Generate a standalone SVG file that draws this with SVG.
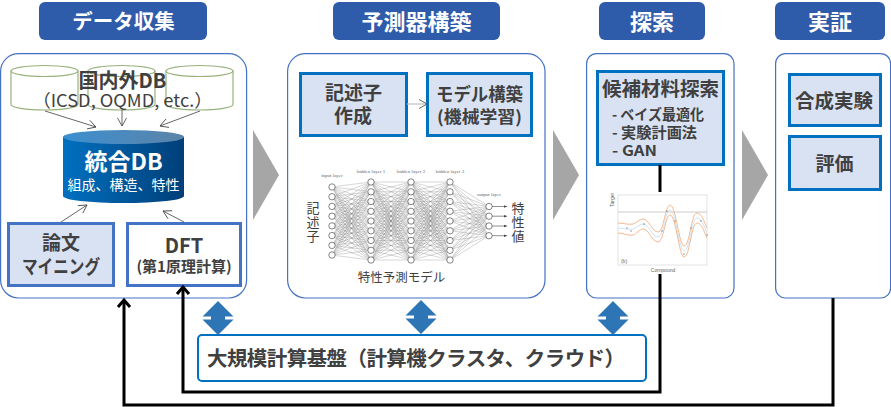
<svg xmlns="http://www.w3.org/2000/svg" xmlns:xlink="http://www.w3.org/1999/xlink" width="891" height="407" viewBox="0 0 891 407">
<style>
text{font-family:"Noto Sans CJK JP","Noto Sans",sans-serif;text-anchor:middle;fill:#404040}
.b{font-weight:700}
.hd{fill:#2f5bab}
.hdt{fill:#fff;font-weight:700}
.panel{fill:#fff;stroke:#4472c4;stroke-width:1.2}
.box{fill:#d9e2f3;stroke:#0070c0;stroke-width:3}
.box2{fill:#d9e2f3;stroke:#4472c4;stroke-width:3}
.cyl{fill:#fff;stroke:#98b27c;stroke-width:1.2}
.thin{fill:none;stroke:#404040;stroke-width:.8;marker-end:url(#oa)}
.lite{fill:none;stroke:#bfbfbf;stroke-width:1.2;marker-end:url(#oa)}
.blk{fill:none;stroke:#000;stroke-width:3}
.blka{marker-end:url(#ba)}
.ga{fill:#a6a6a6}
.da{fill:#2e75b6}
.nn{fill:none;stroke:#777;stroke-width:.3;vector-effect:non-scaling-stroke}
.nd{fill:#fff;stroke:#333;stroke-width:.6}
.sm{font-family:"Liberation Serif",serif;font-size:5px;fill:#666}
.cht{font-family:"Liberation Sans",sans-serif;font-size:5px;fill:#666}
.l{text-anchor:start;font-weight:700;font-size:14.500px}
.pt{fill:#777}
</style>
<defs>
<marker id="oa" markerUnits="userSpaceOnUse" markerWidth="12" markerHeight="12" refX="10" refY="6" orient="auto"><path d="M2 1.500L10 6L2 10.500" fill="none" stroke="#404040" stroke-width=".8"/></marker>
<marker id="ba" markerUnits="userSpaceOnUse" markerWidth="16" markerHeight="16" refX="12" refY="8" orient="auto"><path d="M5 2L12 8L5 14" fill="none" stroke="#000" stroke-width="3"/></marker>
<marker id="sa" markerUnits="userSpaceOnUse" markerWidth="4" markerHeight="4" refX="3" refY="2" orient="auto"><path d="M0 .7L3 2L0 3.300Z" fill="#444"/></marker>
<linearGradient id="dbb" x1="0" x2="1" y1="0" y2="0"><stop offset="0" stop-color="#0070c0"/><stop offset="1" stop-color="#003f78"/></linearGradient>
<linearGradient id="dbt" x1="0" x2="1" y1="0" y2="0"><stop offset="0" stop-color="#3b8fd0"/><stop offset="1" stop-color="#5c84a8"/></linearGradient>
<path id="mesh" class="nn" d="M0 0L1 0M0 0L1 1M0 0L1 2M0 0L1 3M0 0L1 4M0 0L1 5M0 0L1 6M0 0L1 7M0 0L1 8M0 1L1 0M0 1L1 1M0 1L1 2M0 1L1 3M0 1L1 4M0 1L1 5M0 1L1 6M0 1L1 7M0 1L1 8M0 2L1 0M0 2L1 1M0 2L1 2M0 2L1 3M0 2L1 4M0 2L1 5M0 2L1 6M0 2L1 7M0 2L1 8M0 3L1 0M0 3L1 1M0 3L1 2M0 3L1 3M0 3L1 4M0 3L1 5M0 3L1 6M0 3L1 7M0 3L1 8M0 4L1 0M0 4L1 1M0 4L1 2M0 4L1 3M0 4L1 4M0 4L1 5M0 4L1 6M0 4L1 7M0 4L1 8M0 5L1 0M0 5L1 1M0 5L1 2M0 5L1 3M0 5L1 4M0 5L1 5M0 5L1 6M0 5L1 7M0 5L1 8M0 6L1 0M0 6L1 1M0 6L1 2M0 6L1 3M0 6L1 4M0 6L1 5M0 6L1 6M0 6L1 7M0 6L1 8M0 7L1 0M0 7L1 1M0 7L1 2M0 7L1 3M0 7L1 4M0 7L1 5M0 7L1 6M0 7L1 7M0 7L1 8M0 8L1 0M0 8L1 1M0 8L1 2M0 8L1 3M0 8L1 4M0 8L1 5M0 8L1 6M0 8L1 7M0 8L1 8"/>
<path id="dbl" class="da" d="M0 0L15.500 15.500H7V18.500H15.500L0 34L-15.500 18.500H-7V15.500H-15.500Z"/>
<g id="col9"><circle class="nd" cx="0" cy="182" r="3.200"/><circle class="nd" cx="0" cy="191.800" r="3.200"/><circle class="nd" cx="0" cy="201.500" r="3.200"/><circle class="nd" cx="0" cy="211.300" r="3.200"/><circle class="nd" cx="0" cy="221" r="3.200"/><circle class="nd" cx="0" cy="230.800" r="3.200"/><circle class="nd" cx="0" cy="240.500" r="3.200"/><circle class="nd" cx="0" cy="250.300" r="3.200"/><circle class="nd" cx="0" cy="260" r="3.200"/></g>
</defs>

<g id="header-data"><rect class="hd" x="39" y="2" width="168" height="38" rx="6"/><text class="hdt" style="fill:#fff" x="123.500" y="29" font-size="20.500">データ収集</text></g>
<g id="header-model"><rect class="hd" x="333" y="2" width="167" height="38" rx="6"/><text class="hdt" style="fill:#fff" x="416.500" y="30" font-size="22">予測器構築</text></g>
<g id="header-search"><rect class="hd" x="599" y="2" width="106" height="38" rx="6"/><text class="hdt" style="fill:#fff" x="652" y="30" font-size="22">探索</text></g>
<g id="header-verify"><rect class="hd" x="775" y="2" width="110" height="38" rx="6"/><text class="hdt" style="fill:#fff" x="830" y="30" font-size="22">実証</text></g>

<g id="panel-data"><rect class="panel" x="0.600" y="53.600" width="246" height="244.400" rx="18"/></g>
<g id="panel-model"><rect class="panel" x="287.600" y="53.600" width="257.400" height="244.400" rx="18"/></g>
<g id="panel-search"><rect class="panel" x="586.600" y="53.600" width="147.400" height="244.400" rx="10"/></g>
<g id="panel-verify"><rect class="panel" x="775.600" y="53.600" width="115" height="244.400" rx="10"/></g>

<g id="flow-arrows"><path class="ga" d="M253 130L279 175L253 220Z"/><path class="ga" d="M553 130L579 175L553 220Z"/><path class="ga" d="M742 130L768 175L742 220Z"/></g>

<g id="db-external">
<path class="cyl" d="M11 71V104.500A33.500 5.500 0 0 0 78 104.500V71Z"/><ellipse class="cyl" cx="44.500" cy="71" rx="33.500" ry="5.500"/>
<path class="cyl" d="M88 71V104.500A33.500 5.500 0 0 0 155 104.500V71Z"/><ellipse class="cyl" cx="121.500" cy="71" rx="33.500" ry="5.500"/>
<path class="cyl" d="M166 71V104.500A33.500 5.500 0 0 0 233 104.500V71Z"/><ellipse class="cyl" cx="199.500" cy="71" rx="33.500" ry="5.500"/>
<text class="b" x="122.500" y="88" font-size="20">国内外DB</text>
<text x="122.500" y="107" font-size="17.500" textLength="180" lengthAdjust="spacingAndGlyphs">（ICSD, OQMD, etc.）</text>
</g>
<g id="db-integrated">
<path d="M63 137V196A60.500 7 0 0 0 184 196V137Z" fill="url(#dbb)"/><ellipse cx="123.500" cy="137" rx="60.500" ry="7" fill="url(#dbt)"/>
<text class="b" x="123.500" y="170" font-size="23" style="fill:#fff">統合DB</text>
<text x="123.500" y="190" font-size="14" style="fill:#fff">組成、構造、特性</text>
</g>
<g id="node-mining"><rect class="box2" x="8.500" y="223.500" width="105" height="62"/><text class="b" x="61" y="250" font-size="19">論文</text><text class="b" x="61" y="274" font-size="19" textLength="78" lengthAdjust="spacingAndGlyphs">マイニング</text></g>
<g id="node-dft"><rect class="box2" style="fill:#fff" x="127.500" y="223.500" width="113" height="62"/><text class="b" x="184" y="253" font-size="20">DFT</text><text class="b" x="184" y="272" font-size="15">(第1原理計算)</text></g>

<g id="node-descriptor"><rect class="box" x="300.500" y="73.500" width="106" height="62"/><text class="b" x="353.500" y="100" font-size="19">記述子</text><text class="b" x="353" y="123" font-size="19">作成</text></g>
<g id="node-modelbuild"><rect class="box" x="427.500" y="73.500" width="104" height="62"/><text class="b" x="479.500" y="101" font-size="18.500" textLength="87" lengthAdjust="spacingAndGlyphs">モデル構築</text><text class="b" x="479.500" y="123" font-size="17" textLength="85" lengthAdjust="spacingAndGlyphs">(機械学習)</text></g>

<g id="neural-net">
<g transform="translate(332 182) scale(39 9.750)"><path class="nn" d="M0 .5L1 0M0 .5L1 1M0 .5L1 2M0 .5L1 3M0 .5L1 4M0 .5L1 5M0 .5L1 6M0 .5L1 7M0 .5L1 8M0 1.500L1 0M0 1.500L1 1M0 1.500L1 2M0 1.500L1 3M0 1.500L1 4M0 1.500L1 5M0 1.500L1 6M0 1.500L1 7M0 1.500L1 8M0 2.500L1 0M0 2.500L1 1M0 2.500L1 2M0 2.500L1 3M0 2.500L1 4M0 2.500L1 5M0 2.500L1 6M0 2.500L1 7M0 2.500L1 8M0 3.500L1 0M0 3.500L1 1M0 3.500L1 2M0 3.500L1 3M0 3.500L1 4M0 3.500L1 5M0 3.500L1 6M0 3.500L1 7M0 3.500L1 8M0 4.500L1 0M0 4.500L1 1M0 4.500L1 2M0 4.500L1 3M0 4.500L1 4M0 4.500L1 5M0 4.500L1 6M0 4.500L1 7M0 4.500L1 8M0 5.500L1 0M0 5.500L1 1M0 5.500L1 2M0 5.500L1 3M0 5.500L1 4M0 5.500L1 5M0 5.500L1 6M0 5.500L1 7M0 5.500L1 8M0 6.500L1 0M0 6.500L1 1M0 6.500L1 2M0 6.500L1 3M0 6.500L1 4M0 6.500L1 5M0 6.500L1 6M0 6.500L1 7M0 6.500L1 8M0 7.500L1 0M0 7.500L1 1M0 7.500L1 2M0 7.500L1 3M0 7.500L1 4M0 7.500L1 5M0 7.500L1 6M0 7.500L1 7M0 7.500L1 8"/></g>
<use xlink:href="#mesh" href="#mesh" transform="translate(371 182) scale(40 9.750)"/>
<use xlink:href="#mesh" href="#mesh" transform="translate(411 182) scale(39 9.750)"/>
<g transform="translate(450 182) scale(39 9.750)"><path class="nn" d="M0 0L1 2.500M0 0L1 3.500M0 0L1 4.500M0 0L1 5.500M0 1L1 2.500M0 1L1 3.500M0 1L1 4.500M0 1L1 5.500M0 2L1 2.500M0 2L1 3.500M0 2L1 4.500M0 2L1 5.500M0 3L1 2.500M0 3L1 3.500M0 3L1 4.500M0 3L1 5.500M0 4L1 2.500M0 4L1 3.500M0 4L1 4.500M0 4L1 5.500M0 5L1 2.500M0 5L1 3.500M0 5L1 4.500M0 5L1 5.500M0 6L1 2.500M0 6L1 3.500M0 6L1 4.500M0 6L1 5.500M0 7L1 2.500M0 7L1 3.500M0 7L1 4.500M0 7L1 5.500M0 8L1 2.500M0 8L1 3.500M0 8L1 4.500M0 8L1 5.500"/></g>
<g stroke="#444" stroke-width=".6" fill="none" marker-end="url(#sa)"><path d="M489 206.500H507"/><path d="M489 216.200H507"/><path d="M489 226H507"/><path d="M489 235.700H507"/></g>
<g><circle class="nd" cx="332" cy="187" r="3.200"/><circle class="nd" cx="332" cy="196.700" r="3.200"/><circle class="nd" cx="332" cy="206.400" r="3.200"/><circle class="nd" cx="332" cy="216.200" r="3.200"/><circle class="nd" cx="332" cy="225.900" r="3.200"/><circle class="nd" cx="332" cy="235.600" r="3.200"/><circle class="nd" cx="332" cy="245.400" r="3.200"/><circle class="nd" cx="332" cy="255" r="3.200"/></g>
<use xlink:href="#col9" href="#col9" x="371"/><use xlink:href="#col9" href="#col9" x="411"/><use xlink:href="#col9" href="#col9" x="450"/>
<g><circle class="nd" cx="489" cy="206.500" r="3.200"/><circle class="nd" cx="489" cy="216.200" r="3.200"/><circle class="nd" cx="489" cy="226" r="3.200"/><circle class="nd" cx="489" cy="235.700" r="3.200"/></g>
<text class="sm" x="332" y="177">input layer</text><text class="sm" x="371" y="172.500">hidden layer 1</text><text class="sm" x="411" y="172.500">hidden layer 2</text><text class="sm" x="450" y="172.500">hidden layer 3</text><text class="sm" x="489" y="196">output layer</text>
<text font-size="13"><tspan x="313" y="213">記</tspan><tspan x="313" y="227">述</tspan><tspan x="313" y="241">子</tspan></text>
<text font-size="13"><tspan x="518" y="213">特</tspan><tspan x="518" y="227">性</tspan><tspan x="518" y="241">値</tspan></text>
<text x="401.500" y="282" font-size="12.500">特性予測モデル</text>
</g>

<g id="node-search"><rect class="box" x="597.500" y="71.500" width="126" height="93"/><text class="b" x="660.500" y="96" font-size="19.500">候補材料探索</text>
<text class="l" x="612" y="120" textLength="92" lengthAdjust="spacingAndGlyphs">- ベイズ最適化</text><text class="l" x="612" y="138" textLength="85" lengthAdjust="spacingAndGlyphs">- 実験計画法</text><text class="l" x="612" y="156" textLength="45" lengthAdjust="spacingAndGlyphs">- GAN</text></g>

<g id="chart">
<rect x="618" y="195" width="89" height="70" fill="#fff" stroke="#ddd" stroke-width=".8"/>
<path d="M618 212H707" stroke="#aaa" stroke-width=".6"/>
<path d="M618 223C623 223 628 225 633 224C637 223 639 219 643 219C649 219 652 232 658 232C664 232 665 205 670 205C676 205 679 246 684 246C690 246 691 213 697 213C702 213 704 222 707 228" fill="none" stroke="#f0b184" stroke-width=".9"/>
<path d="M618 228C623 228 628 230 633 229C637 228 639 224 643 224C649 224 652 237 658 237C664 237 665 210 670 210C676 210 679 251 684 251C690 251 691 218 697 218C702 218 704 227 707 233" fill="none" stroke="#cfe3f2" stroke-width="1"/>
<path d="M618 233C623 233 628 236 633 235C637 234 639 229 643 229C649 229 652 242 658 242C664 242 665 215 670 215C676 215 679 257 684 257C690 257 691 223 697 223C702 223 704 232 707 238" fill="none" stroke="#f0b184" stroke-width=".9"/>
<g><circle class="pt" cx="627" cy="228" r=".7"/><circle class="pt" cx="631" cy="231" r=".7"/><circle class="pt" cx="644" cy="224" r=".7"/><circle class="pt" cx="662" cy="231" r=".7"/><circle class="pt" cx="667" cy="211" r=".7"/><circle class="pt" cx="675" cy="221" r=".7"/><circle class="pt" cx="684" cy="254" r=".7"/><circle class="pt" cx="691" cy="228" r=".7"/><circle class="pt" cx="701" cy="221" r=".7"/><circle class="pt" cx="707" cy="235" r=".7"/></g>
<text class="cht" transform="translate(614 200) rotate(-90)">Target</text>
<text class="cht" x="663" y="272">Compound</text>
<text class="cht" x="624" y="263">(b)</text>
</g>

<g id="node-synthesis"><rect class="box" x="789.500" y="74.500" width="91" height="51"/><text class="b" x="834" y="108" font-size="19.500">合成実験</text></g>
<g id="node-eval"><rect class="box" x="789.500" y="136.500" width="91" height="53"/><text class="b" x="834.500" y="171" font-size="19">評価</text></g>

<g id="node-infra"><rect x="198" y="335" width="448" height="46" rx="4" fill="#fff" stroke="#0070c0" stroke-width="2"/><text class="b" x="416" y="366" font-size="20.500" textLength="418">大規模計算基盤（計算機クラスタ、クラウド）</text></g>

<g id="connectors">
<path class="thin" d="M45 111L96 127"/><path class="thin" d="M122 110V126"/><path class="thin" d="M200 111L160 126"/>
<path class="thin" d="M61 222L87 205"/><path class="thin" d="M184 222L163 211"/>
<path class="lite" d="M407 104H427"/>
<path class="blk" d="M660 165V192"/>
<path class="blk blka" d="M660 274V392H183V287"/>
<path class="blk blka" d="M833 298V405H124V300"/>
<use xlink:href="#dbl" href="#dbl" x="218" y="301"/><use xlink:href="#dbl" href="#dbl" x="421" y="300"/><use xlink:href="#dbl" href="#dbl" x="613" y="301"/>
</g>
</svg>
